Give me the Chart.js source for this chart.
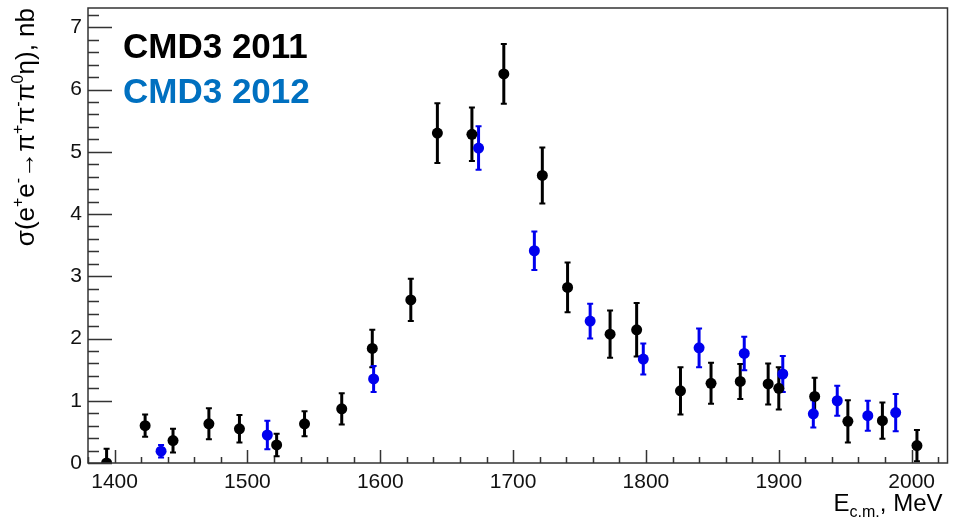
<!DOCTYPE html>
<html>
<head>
<meta charset="utf-8">
<title>CMD3 sigma(e+e- -> pi+pi-pi0 eta)</title>
<script src="https://cdn.jsdelivr.net/npm/chart.js@4.4.1/dist/chart.umd.min.js"></script>
<style>
  html, body { margin: 0; padding: 0; background: #fff; }
  #wrap { width: 953px; height: 519px; position: relative; }
</style>
</head>
<body>
<div id="wrap"><canvas id="chart-canvas"></canvas></div>
<script>
// CMD3 2011 run: energy (MeV), cross section (nb), error (nb)
const energy2011 = [1394, 1423, 1444, 1471, 1494, 1522, 1543, 1571, 1594, 1623, 1643, 1669, 1693,
                    1722, 1741, 1773, 1793, 1826, 1849, 1871, 1892, 1900, 1927, 1952, 1978, 2004];
const sigma2011 = [0.00, 0.60, 0.36, 0.63, 0.55, 0.29, 0.63, 0.87, 1.84, 2.62, 5.30, 5.28, 6.25,
                   4.62, 2.82, 2.07, 2.14, 1.16, 1.28, 1.31, 1.27, 1.20, 1.07, 0.67, 0.68, 0.28];
const error2011 = [0.23, 0.18, 0.19, 0.25, 0.22, 0.18, 0.20, 0.25, 0.30, 0.34, 0.48, 0.43, 0.48,
                   0.45, 0.40, 0.38, 0.43, 0.38, 0.33, 0.28, 0.33, 0.34, 0.30, 0.34, 0.29, 0.25];

// CMD3 2012 run
const energy2012 = [1435, 1515, 1595, 1674, 1716, 1758, 1798, 1840, 1874, 1903, 1926, 1944, 1967, 1988];
const sigma2012 = [0.19, 0.45, 1.35, 5.06, 3.41, 2.28, 1.67, 1.85, 1.76, 1.43, 0.79, 1.00, 0.76, 0.81];
const error2012 = [0.10, 0.23, 0.21, 0.35, 0.31, 0.28, 0.25, 0.31, 0.27, 0.29, 0.22, 0.24, 0.24, 0.30];

// tick labels
const xTickValues = [1400, 1500, 1600, 1700, 1800, 1900, 2000];
const yTickValues = [0, 1, 2, 3, 4, 5, 6, 7];

const FONT = '"Liberation Sans", Arial, sans-serif';

function toPoints(xs, ys) {
    return xs.map((x, i) => ({ x: x, y: ys[i] }));
}

// ROOT-like frame with inward ticks
const framePlugin = {
    id: 'frame',
    afterDraw(chart) {
        const ctx = chart.ctx;
        const a = chart.chartArea;
        const xs = chart.scales.x;
        const ys = chart.scales.y;
        ctx.save();
        ctx.strokeStyle = '#333';
        ctx.lineWidth = 1.5;
        ctx.strokeRect(a.left, a.top, a.right - a.left, a.bottom - a.top);

        ctx.beginPath();
        // x ticks: major every 100, minor every 20
        for (let v = 1380; v <= xs.max; v += 20) {
            const px = Math.round(xs.getPixelForValue(v)) + 0.5;
            const len = (v % 100 === 0) ? 13 : 6;
            ctx.moveTo(px, a.bottom);
            ctx.lineTo(px, a.bottom - len);
        }
        // y ticks: major every 1, minor every 0.2
        for (let k = 0; k * 0.2 <= ys.max; k++) {
            const v = k * 0.2;
            const py = Math.round(ys.getPixelForValue(v)) + 0.5;
            const len = (k % 5 === 0) ? 24 : 11;
            ctx.moveTo(a.left, py);
            ctx.lineTo(a.left + len, py);
        }
        ctx.stroke();
        ctx.restore();
    }
};

// vertical error bars drawn through the scales
const errorBarPlugin = {
    id: 'errorBars',
    beforeDatasetsDraw(chart) {
        const ctx = chart.ctx;
        const a = chart.chartArea;
        const xs = chart.scales.x;
        const ys = chart.scales.y;
        ctx.save();
        ctx.beginPath();
        ctx.rect(a.left, a.top, a.right - a.left, a.bottom - a.top);
        ctx.clip();
        chart.data.datasets.forEach(ds => {
            ctx.strokeStyle = ds.backgroundColor;
            ds.data.forEach((p, i) => {
                const e = ds.errors[i];
                const px = xs.getPixelForValue(p.x);
                const yTop = ys.getPixelForValue(p.y + e);
                const yBot = ys.getPixelForValue(p.y - e);
                ctx.lineWidth = 3;
                ctx.beginPath();
                ctx.moveTo(px, yTop);
                ctx.lineTo(px, yBot);
                ctx.stroke();
                ctx.lineWidth = 2;
                ctx.beginPath();
                ctx.moveTo(px - 3, yTop);
                ctx.lineTo(px + 3, yTop);
                ctx.moveTo(px - 3, yBot);
                ctx.lineTo(px + 3, yBot);
                ctx.stroke();
            });
        });
        ctx.restore();
    }
};

// legend texts and axis titles with super/subscripts
const textPlugin = {
    id: 'texts',
    afterDraw(chart) {
        const ctx = chart.ctx;
        const a = chart.chartArea;
        ctx.save();
        ctx.textBaseline = 'alphabetic';
        ctx.textAlign = 'left';

        ctx.font = 'bold 35px ' + FONT;
        ctx.fillStyle = '#000';
        ctx.fillText('CMD3 2011', a.left + 35, a.top + 50);
        ctx.fillStyle = '#0070c0';
        ctx.fillText('CMD3 2012', a.left + 35, a.top + 95);

        // x title, right aligned at the frame's right edge
        const big = '24px ' + FONT;
        const small = '16px ' + FONT;
        const xParts = [['E', big, 0], ['c.m.', small, 6], [', MeV', big, 0]];
        let w = 0;
        xParts.forEach(p => { ctx.font = p[1]; w += ctx.measureText(p[0]).width; });
        let x = a.right - 5 - w;
        ctx.fillStyle = '#000';
        xParts.forEach(p => {
            ctx.font = p[1];
            ctx.fillText(p[0], x, 511 + p[2]);
            x += ctx.measureText(p[0]).width;
        });

        // y title, rotated, end aligned at the top
        const yb = '26px ' + FONT;
        const ys = '16px ' + FONT;
        const yParts = [['σ(e', yb, 0], ['+', ys, -11], ['e', yb, 0], ['-', ys, -11],
                        ['→π', yb, 0], ['+', ys, -11], ['π', yb, 0], ['-', ys, -11],
                        ['π', yb, 0], ['0', ys, -11], ['η), nb', yb, 0]];
        w = 0;
        yParts.forEach(p => { ctx.font = p[1]; w += ctx.measureText(p[0]).width; });
        ctx.translate(34, 8);
        ctx.rotate(-Math.PI / 2);
        x = -w;
        yParts.forEach(p => {
            ctx.font = p[1];
            ctx.fillText(p[0], x, p[2]);
            x += ctx.measureText(p[0]).width;
        });
        ctx.restore();
    }
};

const canvas = document.getElementById('chart-canvas');
new Chart(canvas, {
    type: 'scatter',
    data: {
        datasets: [
            {
                label: 'CMD3 2011',
                data: toPoints(energy2011, sigma2011),
                errors: error2011,
                backgroundColor: '#000000',
                borderWidth: 0,
                pointRadius: 5.5,
                pointHoverRadius: 5.5
            },
            {
                label: 'CMD3 2012',
                data: toPoints(energy2012, sigma2012),
                errors: error2012,
                backgroundColor: '#0000ee',
                borderWidth: 0,
                pointRadius: 5.5,
                pointHoverRadius: 5.5
            }
        ]
    },
    options: {
        responsive: true,
        maintainAspectRatio: false,
        animation: false,
        layout: { padding: { top: 8, right: 2, left: 0, bottom: 0 } },
        plugins: {
            legend: { display: false },
            tooltip: { enabled: false }
        },
        scales: {
            x: {
                type: 'linear',
                min: 1380,
                max: 2027,
                grid: { display: false, drawTicks: false },
                border: { display: false },
                afterBuildTicks: s => { s.ticks = xTickValues.map(v => ({ value: v })); },
                afterFit: s => { s.height = 56; s.paddingLeft = 0; s.paddingRight = 0; },
                ticks: {
                    color: '#111',
                    padding: 7,
                    maxRotation: 0,
                    font: { family: FONT, size: 21 },
                    callback: v => String(v)
                }
            },
            y: {
                type: 'linear',
                min: 0,
                max: 7.31,
                grid: { display: false, drawTicks: false },
                border: { display: false },
                afterBuildTicks: s => { s.ticks = yTickValues.map(v => ({ value: v })); },
                afterFit: s => { s.width = 88; s.paddingTop = 0; s.paddingBottom = 0; },
                ticks: {
                    color: '#111',
                    padding: 6,
                    font: { family: FONT, size: 21 },
                    callback: v => String(v)
                }
            }
        }
    },
    plugins: [errorBarPlugin, framePlugin, textPlugin]
});
</script>
</body>
</html>
